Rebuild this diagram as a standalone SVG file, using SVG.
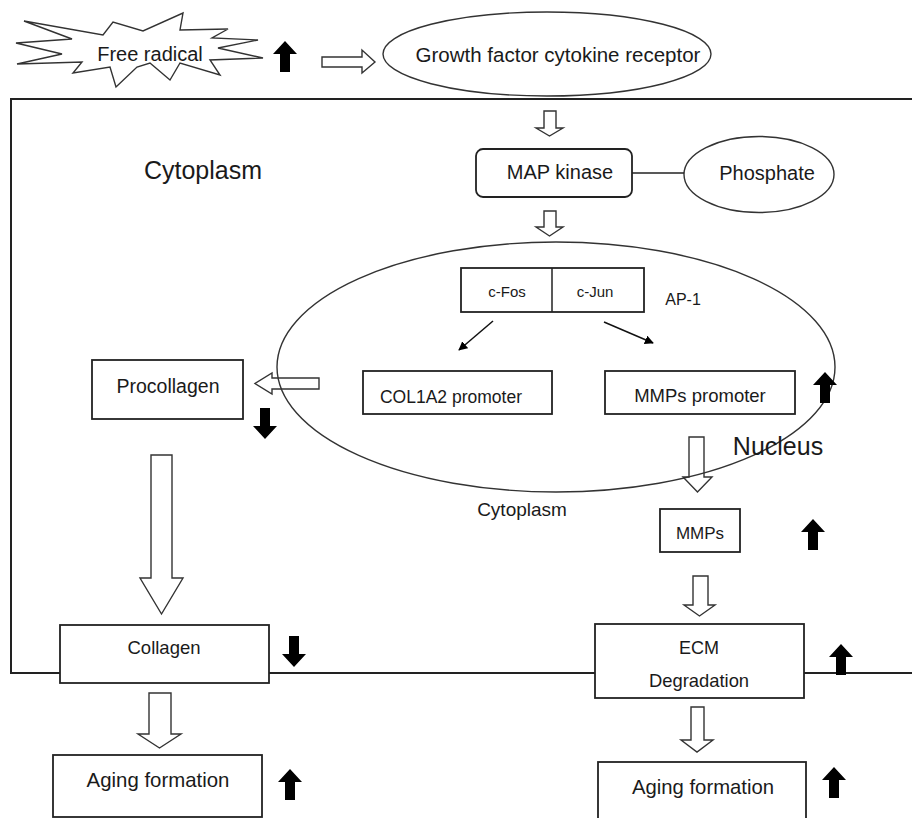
<svg xmlns="http://www.w3.org/2000/svg" width="912" height="818" viewBox="0 0 912 818">
<defs>
<style>
.t{font-family:"Liberation Sans",Arial,sans-serif;fill:#1a1a1a;text-anchor:middle}
.box{fill:#fff;stroke:#222;stroke-width:1.8}
.ell{fill:none;stroke:#333;stroke-width:1.4}
.hollow{fill:#fff;stroke:#333;stroke-width:1.4;stroke-linejoin:miter}
.thin{stroke:#222;stroke-width:1.5;fill:none}
</style>
<path id="up" d="M12,0 L24,13 L17,13 L17,31 L7,31 L7,13 L0,13 Z" fill="#000"/>
<marker id="ah" viewBox="0 0 10 10" refX="9" refY="5" markerWidth="9" markerHeight="9" markerUnits="userSpaceOnUse" orient="auto">
<path d="M0,0 L10,5 L0,10 Z" fill="#000"/>
</marker>
</defs>
<rect width="912" height="818" fill="#fff"/>

<g id="cell">
<path d="M912,99 H11 V673 H912" fill="none" stroke="#222" stroke-width="2"/>
<text class="t" x="203" y="179" font-size="25">Cytoplasm</text>
</g>

<g id="free-radical">
<polygon class="hollow" points="24,21 103,35 113,22 143,31 183,13 180,30 228,29 212,38 258,40 218,48 263,58 210,60 220,75 180,63 170,80 150,63 137,67 116,87 110,67 73,73 82,62 17,64 62,54 16,43 72,39"/>
<text class="t" x="150" y="61" font-size="20">Free radical</text>
</g>

<g id="receptor">
<ellipse class="ell" cx="547" cy="54" rx="164" ry="42"/>
<text class="t" x="558" y="62" font-size="20.5">Growth factor cytokine receptor</text>
</g>

<g id="map-kinase">
<rect class="box" x="476" y="149" width="156" height="48" rx="7"/>
<text class="t" x="560" y="179" font-size="20">MAP kinase</text>
</g>

<g id="phosphate">
<ellipse class="ell" cx="759" cy="174.5" rx="75" ry="38"/>
<text class="t" x="767" y="180" font-size="20">Phosphate</text>
</g>

<g id="connectors">
<polygon class="hollow" points="322,57 362,57 362,50 375,62 362,73 362,67 322,67"/>
<line class="thin" x1="632" y1="173" x2="684" y2="173"/>
<polygon class="hollow" points="544,111 556,111 556,128 563,128 549.5,136 536,128 544,128"/>
<polygon class="hollow" points="544,211 556,211 556,227 563,227 549.5,236 536,227 544,227"/>
<line x1="493" y1="321" x2="459" y2="350" stroke="#111" stroke-width="1.5" marker-end="url(#ah)"/>
<line x1="604" y1="322" x2="653" y2="343" stroke="#111" stroke-width="1.5" marker-end="url(#ah)"/>
<polygon class="hollow" points="319,378 272,378 272,373 255,383.5 272,394 272,389 319,389"/>
<polygon class="hollow" points="151,455 172,455 172,578 183,578 161.5,614 140,578 151,578"/>
<polygon class="hollow" points="149,693 171,693 171,734 181,734 159.5,748 138,734 149,734"/>
<polygon class="hollow" points="689,437 704,437 704,477 712,477 697.5,492 683,477 689,477"/>
<polygon class="hollow" points="693,576 708,576 708,605 715,605 699.5,616 684,605 693,605"/>
<polygon class="hollow" points="691,707 704,707 704,740 713,740 697,752 681,740 691,740"/>
</g>

<g id="nucleus">
<ellipse class="ell" cx="556" cy="367" rx="279" ry="125"/>
<text class="t" x="778" y="455" font-size="25">Nucleus</text>
<text class="t" x="522" y="516" font-size="19">Cytoplasm</text>
</g>

<g id="ap1">
<rect class="box" x="461" y="268" width="183" height="44"/>
<line class="thin" x1="552" y1="268" x2="552" y2="312"/>
<text class="t" x="507" y="297" font-size="15">c-Fos</text>
<text class="t" x="595" y="297" font-size="15">c-Jun</text>
<text class="t" x="683" y="305" font-size="16">AP-1</text>
</g>

<g id="col1a2-promoter">
<rect class="box" x="363" y="371" width="189" height="43"/>
<text class="t" x="451" y="403" font-size="17.5">COL1A2 promoter</text>
</g>

<g id="mmps-promoter">
<rect class="box" x="605" y="371" width="190" height="43"/>
<text class="t" x="700" y="402" font-size="18.5">MMPs promoter</text>
</g>

<g id="procollagen">
<rect class="box" x="92" y="360" width="151" height="59"/>
<text class="t" x="168" y="393" font-size="19.5">Procollagen</text>
</g>

<g id="mmps">
<rect class="box" x="660" y="509" width="80" height="43"/>
<text class="t" x="700" y="539" font-size="17">MMPs</text>
</g>

<g id="collagen">
<rect class="box" x="60" y="625" width="209" height="58"/>
<text class="t" x="164" y="654" font-size="18.5">Collagen</text>
</g>

<g id="ecm-degradation">
<rect class="box" x="595" y="624" width="209" height="74"/>
<text class="t" x="699" y="654" font-size="18">ECM</text>
<text class="t" x="699" y="687" font-size="18.4">Degradation</text>
</g>

<g id="aging-left">
<rect class="box" x="53" y="755" width="209" height="62"/>
<text class="t" x="158" y="787" font-size="20.4">Aging formation</text>
</g>

<g id="aging-right">
<rect class="box" x="598" y="762" width="208" height="70"/>
<text class="t" x="703" y="794" font-size="20.3">Aging formation</text>
</g>

<g id="indicators">
<use href="#up" x="273" y="41"/>
<use href="#up" x="813" y="372"/>
<use href="#up" transform="translate(277,439) rotate(180)"/>
<use href="#up" x="801" y="519"/>
<use href="#up" transform="translate(306,667) rotate(180)"/>
<use href="#up" x="829" y="644"/>
<use href="#up" x="278" y="769"/>
<use href="#up" x="822" y="767"/>
</g>
</svg>
